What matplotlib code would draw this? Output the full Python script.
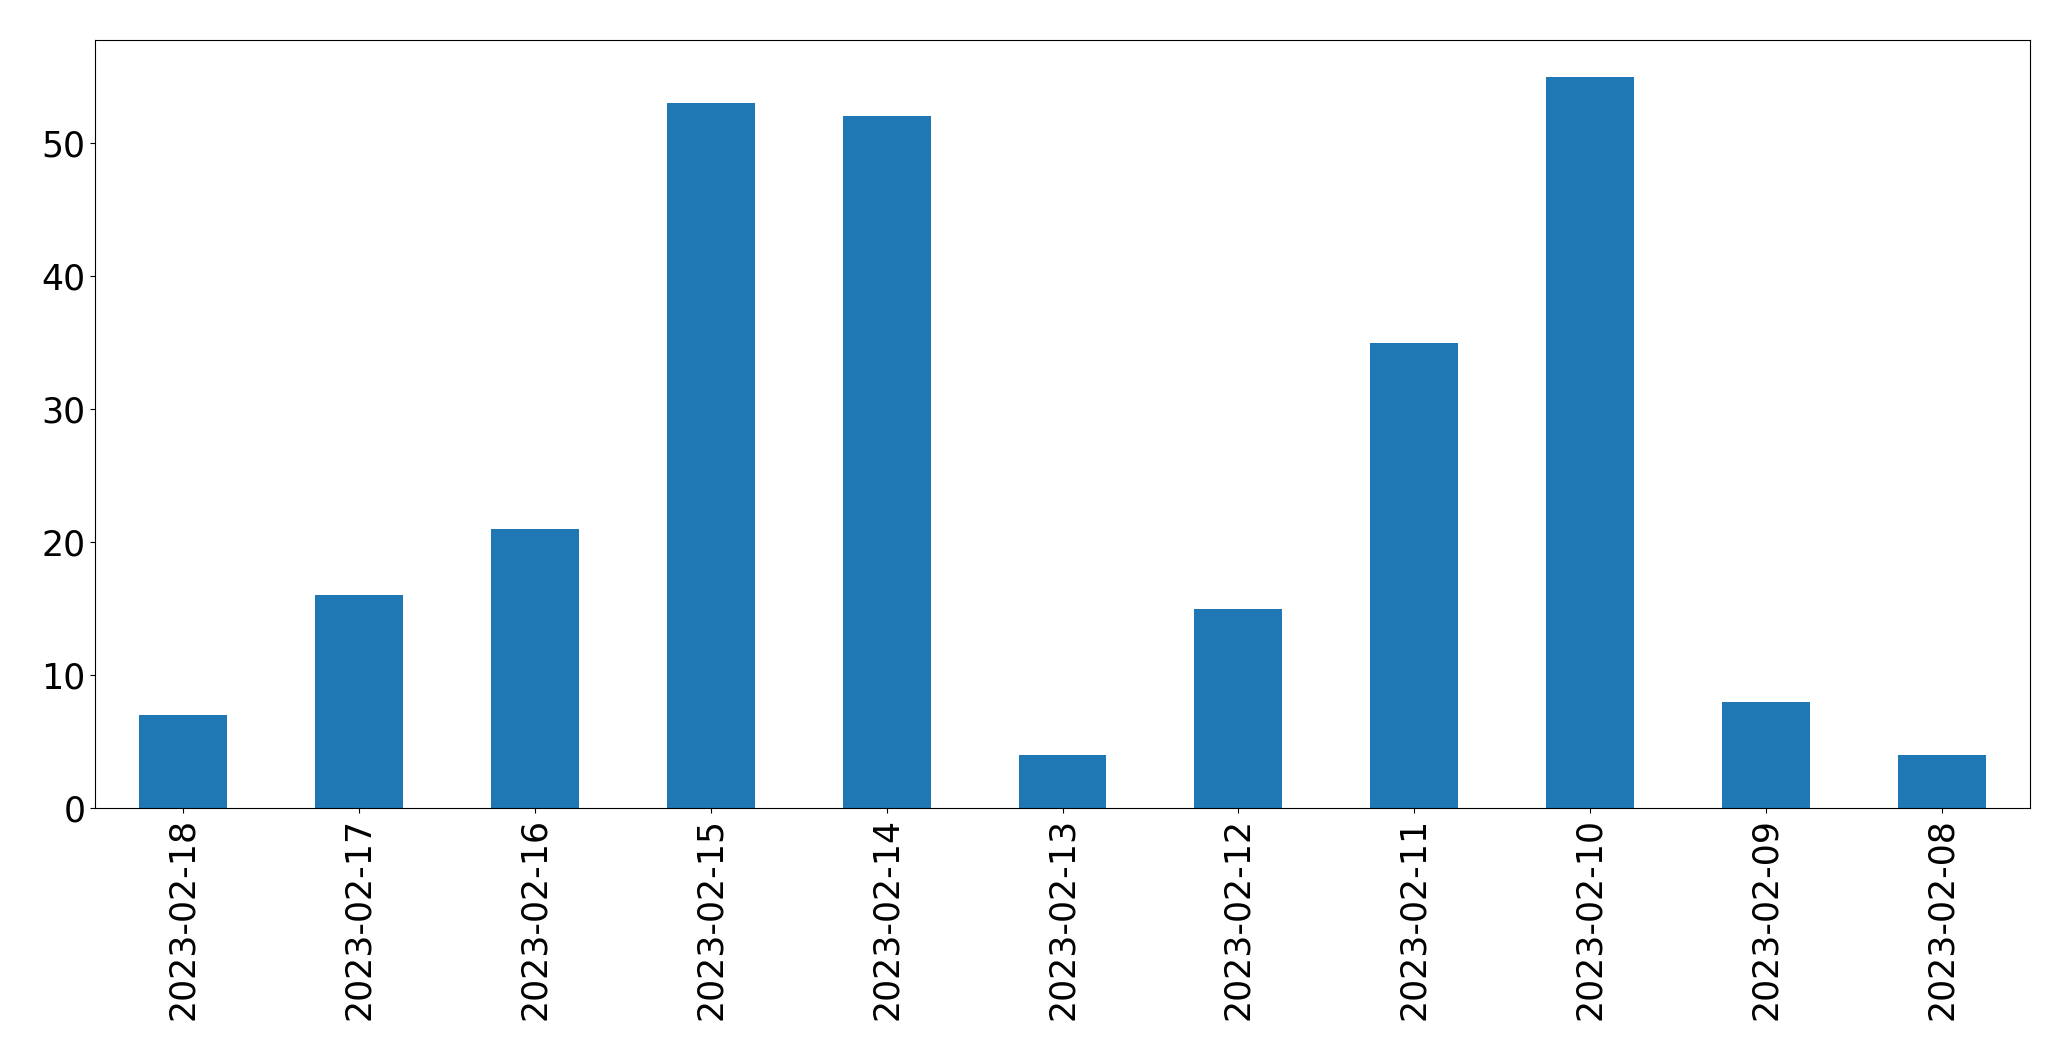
import matplotlib
matplotlib.use("Agg")
import matplotlib.pyplot as plt

dates = ["2023-02-18", "2023-02-17", "2023-02-16", "2023-02-15", "2023-02-14",
         "2023-02-13", "2023-02-12", "2023-02-11", "2023-02-10", "2023-02-09", "2023-02-08"]
counts = [7, 16, 21, 53, 52, 4, 15, 35, 55, 8, 4]

fig = plt.figure(figsize=(20.71, 10.61), dpi=100)
ax = fig.add_axes([95/2071, 1 - 808/1061, (2030-95)/2071, (808-40)/1061])
x = range(len(dates))
ax.bar(x, counts, width=0.5, color="#1f77b4")
ax.set_xticks(list(x))
ax.set_xticklabels(dates, rotation=90)
ax.set_xlim(-0.5, len(dates) - 0.5)
ax.tick_params(labelsize=25)
fig.savefig("out.png", dpi=100)
